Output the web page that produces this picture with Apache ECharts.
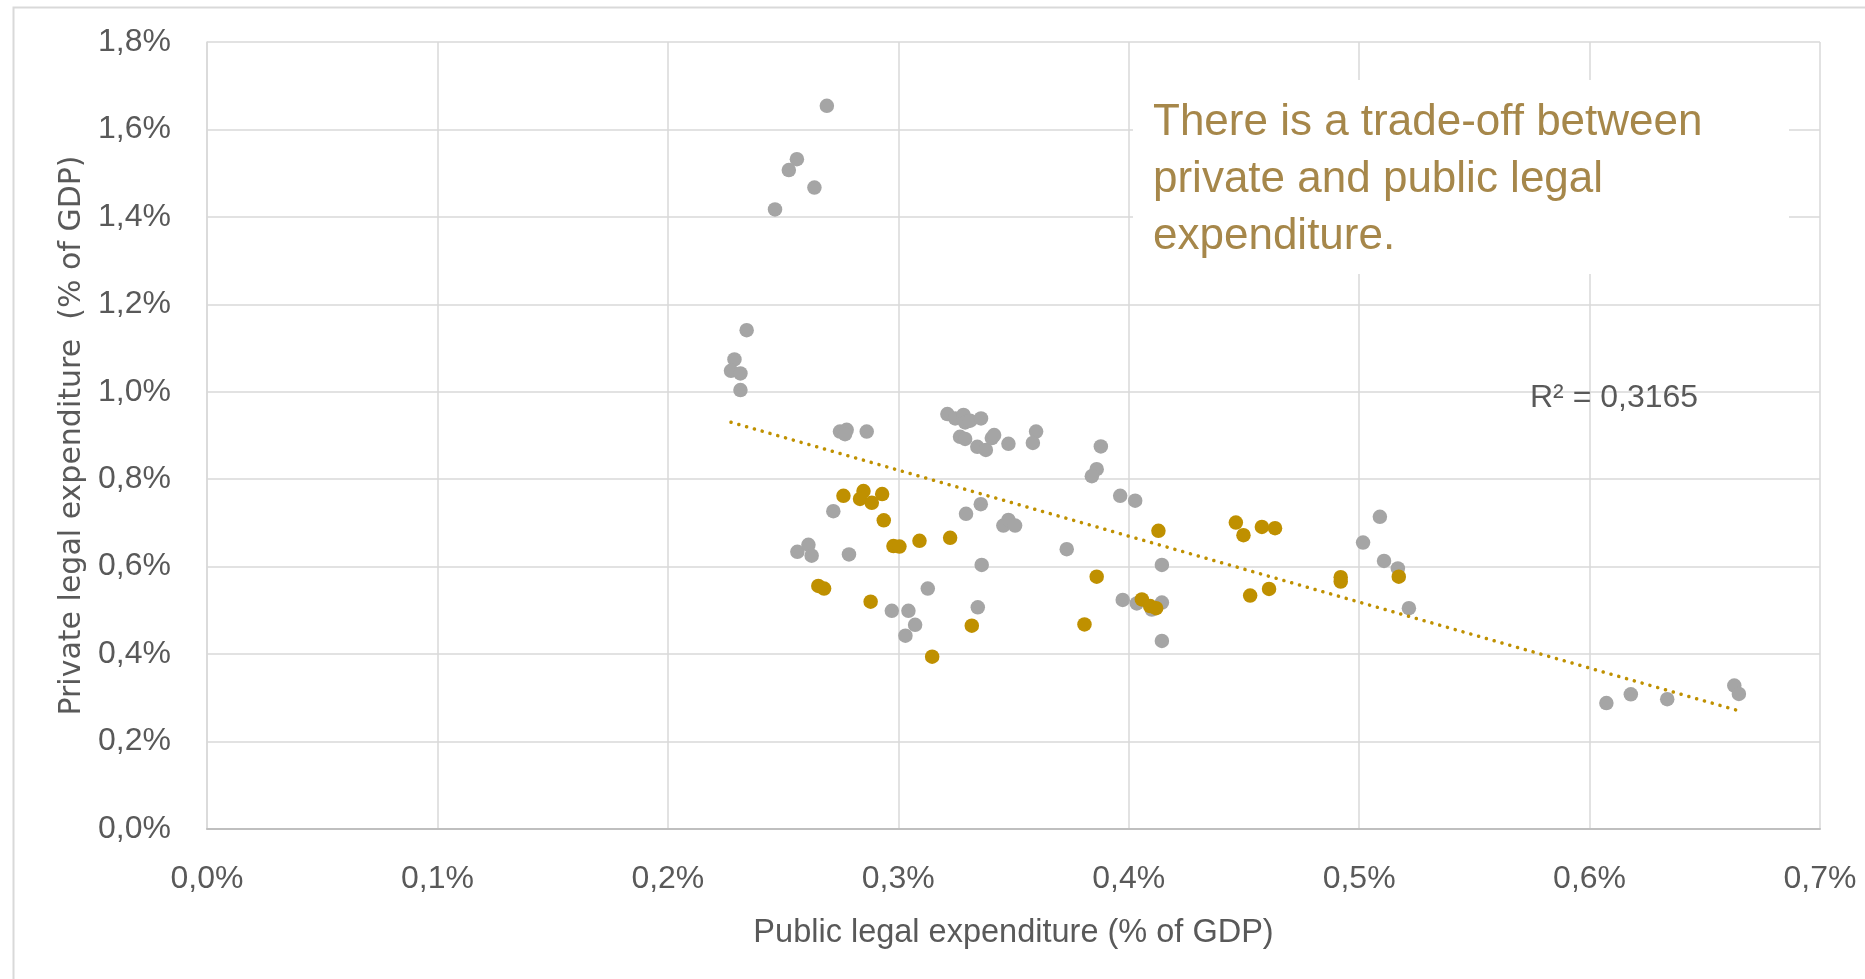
<!DOCTYPE html>
<html>
<head>
<meta charset="utf-8">
<script src="https://cdn.jsdelivr.net/npm/echarts@6/dist/echarts.min.js"></script>
<style>
html,body{margin:0;padding:0;background:#fff;}
#chart{width:1865px;height:979px;}
</style>
</head>
<body>
<div id="chart"></div>
<script>
// Public legal expenditure (% of GDP) vs Private legal expenditure (% of GDP)
var greyX = [0.269,0.256,0.2525,0.2636,0.2465,0.2342,0.2289,0.2274,0.2315,0.2315,
  0.2747,0.2776,0.2769,0.2863,
  0.3213,0.3247,0.3283,0.329,0.3312,0.3359,
  0.3268,0.329,0.3343,0.338,0.3406,0.3416,0.3478,0.3598,0.3584,
  0.3879,0.3861,0.384,0.3963,0.4028,
  0.3358,0.3294,0.3456,0.3478,0.3507,
  0.2718,0.3731,
  0.2562,0.261,0.2624,0.2786,
  0.3362,0.4144,
  0.3128,0.2972,0.3044,0.3073,0.3031,
  0.3345,
  0.3974,0.4035,0.41,0.4144,0.4144,
  0.509,0.5017,0.5108,0.5168,0.5216,
  0.6073,0.6179,0.6337,0.6628,0.6648];
var greyY = [1.654,1.532,1.507,1.467,1.417,1.141,1.074,1.048,1.042,1.004,
  0.909,0.913,0.903,0.909,
  0.949,0.939,0.947,0.930,0.934,0.939,
  0.897,0.892,0.874,0.867,0.894,0.901,0.881,0.909,0.883,
  0.875,0.823,0.807,0.762,0.751,
  0.743,0.721,0.694,0.707,0.694,
  0.727,0.640,
  0.634,0.650,0.625,0.628,
  0.604,0.604,
  0.550,0.499,0.499,0.467,0.442,
  0.507,
  0.524,0.516,0.502,0.518,0.430,
  0.714,0.655,0.613,0.596,0.505,
  0.288,0.308,0.297,0.328,0.309];
var goldX = [0.2762,0.2849,0.2834,0.2885,0.2930,0.2937,
  0.2979,0.3005,0.3092,0.3225,
  0.2653,0.2678,0.2880,0.3147,0.3319,
  0.3861,0.3808,0.4129,
  0.4057,0.4093,0.4119,
  0.4465,0.4498,0.4578,0.4635,
  0.4527,0.4609,0.4920,0.4920,0.5172];
var goldY = [0.762,0.773,0.755,0.746,0.766,0.706,
  0.647,0.646,0.659,0.666,
  0.556,0.550,0.520,0.394,0.465,
  0.577,0.468,0.682,
  0.525,0.510,0.505,
  0.701,0.672,0.691,0.688,
  0.534,0.549,0.576,0.566,0.577];
var xTicks = [0,0.1,0.2,0.3,0.4,0.5,0.6,0.7];
var yTicks = [0,0.2,0.4,0.6,0.8,1.0,1.2,1.4,1.6,1.8];
var annotationText = 'There is a trade-off between\nprivate and public legal\nexpenditure.';
var r2Text = 'R² = 0,3165';
var xTitle = 'Public legal expenditure (% of GDP)';
var yTitle = 'Private legal expenditure  (% of GDP)';

function zip(a,b){ return a.map(function(v,i){ return [v,b[i]]; }); }
var allX = greyX.concat(goldX), allY = greyY.concat(goldY);
var n = allX.length, sx=0, sy=0, sxx=0, sxy=0;
for (var i=0;i<n;i++){ sx+=allX[i]; sy+=allY[i]; sxx+=allX[i]*allX[i]; sxy+=allX[i]*allY[i]; }
var slope = (n*sxy - sx*sy)/(n*sxx - sx*sx);
var icpt = (sy - slope*sx)/n;
var xmin = Math.min.apply(null, allX), xmax = Math.max.apply(null, allX);
var trend = [[xmin, icpt+slope*xmin],[xmax, icpt+slope*xmax]];

function fmt(v){ return v.toFixed(1).replace('.', ',') + '%'; }

var chart = echarts.init(document.getElementById('chart'), null, {renderer:'canvas'});
var font = '"Liberation Sans", Arial, sans-serif';
chart.setOption({
  animation:false,
  backgroundColor:'#ffffff',
  grid:{left:207, right:45, top:42, bottom:150},
  xAxis:{
    type:'value', min:xTicks[0], max:xTicks[xTicks.length-1], interval:0.1,
    name:xTitle, nameLocation:'middle', nameGap:88,
    nameTextStyle:{fontFamily:font, fontSize:32.5, color:'#595959'},
    axisLine:{show:true, lineStyle:{color:'#BFBFBF', width:2}},
    axisTick:{show:false},
    axisLabel:{fontFamily:font, fontSize:32, color:'#595959', margin:34, formatter:fmt},
    splitLine:{show:true, lineStyle:{color:'#D9D9D9', width:1.5}}
  },
  yAxis:{
    type:'value', min:yTicks[0], max:yTicks[yTicks.length-1], interval:0.2,
    name:yTitle, nameLocation:'middle', nameGap:120, nameRotate:90,
    nameTextStyle:{fontFamily:'"DejaVu Sans", Verdana, sans-serif', fontSize:30, color:'#595959'},
    axisLine:{show:true, lineStyle:{color:'#D9D9D9', width:1.5}},
    axisTick:{show:false},
    axisLabel:{fontFamily:font, fontSize:32, color:'#595959', margin:36, formatter:fmt},
    splitLine:{show:true, lineStyle:{color:'#D9D9D9', width:1.5}}
  },
  graphic:[
    {type:'rect', left:11, top:5, z:-10, silent:true,
     shape:{width:1900, height:1000},
     style:{fill:'none', stroke:'#D9D9D9', lineWidth:2}},
    {type:'rect', left:1133, top:80, z:5, silent:true,
     shape:{width:656, height:194}, style:{fill:'#ffffff'}},
    {type:'text', left:1153, top:94, z:6, silent:true,
     style:{text:annotationText, fontFamily:font, fontSize:44, lineHeight:57, fill:'#A6874A'}},
    {type:'text', left:1530, top:382, z:6, silent:true,
     style:{text:r2Text, fontFamily:font, fontSize:32, fill:'#595959'}}
  ],
  series:[
    {type:'scatter', name:'grey', data:zip(greyX,greyY), symbolSize:14.5, z:2,
     itemStyle:{color:'#A5A5A5', opacity:1}},
    {type:'scatter', name:'gold', data:zip(goldX,goldY), symbolSize:14.5, z:3,
     itemStyle:{color:'#BF9000', opacity:1}},
    {type:'line', name:'trend', data:trend, symbol:'none', z:4,
     lineStyle:{color:'#BF9000', width:3.5, type:[0.1,8], cap:'round'}}
  ]
});
</script>
</body>
</html>
